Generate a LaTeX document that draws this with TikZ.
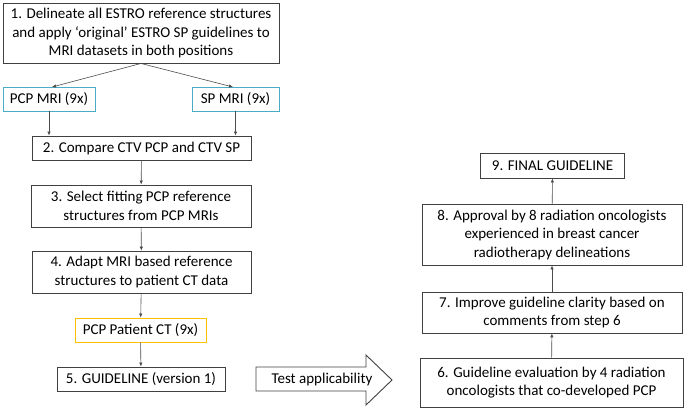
\documentclass[tikz,border=0pt]{standalone}
\usepackage{fontspec}
\setmainfont{Carlito}
\usetikzlibrary{arrows.meta}
\definecolor{mriblue}{HTML}{4BACC6}
\definecolor{ctyellow}{HTML}{FFC000}

\begin{document}
\begin{tikzpicture}[x=1pt, y=-1pt,
    every node/.style={font=\fontsize{15}{18.5}\selectfont, align=center, inner sep=0pt},
    stepbox/.style={draw=black!75, line width=0.9pt},
    mribox/.style={draw=mriblue, line width=0.9pt},
    ctbox/.style={draw=ctyellow, line width=0.9pt},
    flow/.style={-{Latex[length=4pt,width=3.5pt]}, draw=black!70, line width=0.6pt}]
    \useasboundingbox (0,0) rectangle (685,408);

    % left column
    \node[stepbox, minimum width=276pt, minimum height=60pt] (s1) at (141,33)
        {1. Delineate all ESTRO reference structures\\and apply `original' ESTRO SP guidelines to\\MRI datasets in both positions};
    \node[mribox, minimum width=92pt, minimum height=24pt] (pcpmri) at (49,99) {PCP MRI (9x)};
    \node[mribox, minimum width=87pt, minimum height=24pt] (spmri) at (235.5,99) {SP MRI (9x)};
    \node[stepbox, minimum width=219pt, minimum height=24pt] (s2) at (141.5,148) {2. Compare CTV PCP and CTV SP};
    \node[stepbox, minimum width=220pt, minimum height=42pt] (s3) at (141,206)
        {3. Select fitting PCP reference\\structures from PCP MRIs};
    \node[stepbox, minimum width=219pt, minimum height=42pt] (s4) at (141.5,272)
        {4. Adapt MRI based reference\\structures to patient CT data};
    \node[ctbox, minimum width=131pt, minimum height=24pt] (ct) at (140.5,330) {PCP Patient CT (9x)};
    \node[stepbox, minimum width=168pt, minimum height=24pt] (s5) at (141,379) {5. GUIDELINE (version 1)};

    % test arrow
    \draw[black!75, line width=0.9pt] (256,367) -- (366,367) -- (366,355) -- (392,380)
        -- (366,405) -- (366,391) -- (256,391) -- cycle;
    \node (test) at (322,379) {Test applicability};

    % right column
    \node[stepbox, minimum width=263pt, minimum height=49pt] (s6) at (551.5,382.5)
        {6. Guideline evaluation by 4 radiation\\oncologists that co-developed PCP};
    \node[stepbox, minimum width=260pt, minimum height=41pt] (s7) at (552,312.5)
        {7. Improve guideline clarity based on\\comments from step 6};
    \node[stepbox, minimum width=260pt, minimum height=61pt] (s8) at (552,234.5)
        {8. Approval by 8 radiation oncologists\\experienced in breast cancer\\radiotherapy delineations};
    \node[stepbox, minimum width=144pt, minimum height=25pt] (s9) at (552.5,165.5) {9. FINAL GUIDELINE};

    \draw[flow] (s1.south) -- (52,87);
    \draw[flow] (s1.south) -- (233,87);
    \draw[flow] (pcpmri.south) -- (pcpmri.south |- s2.north);
    \draw[flow] (spmri.south) -- (spmri.south |- s2.north);
    \draw[flow] (s2) -- (s3);
    \draw[flow] (s3) -- (s4);
    \draw[flow] (s4) -- (ct);
    \draw[flow] (ct) -- (s5);
    \draw[flow] (s6) -- (s7);
    \draw[flow] (s7) -- (s8);
    \draw[flow] (s8) -- (s9);
\end{tikzpicture}
\end{document}
